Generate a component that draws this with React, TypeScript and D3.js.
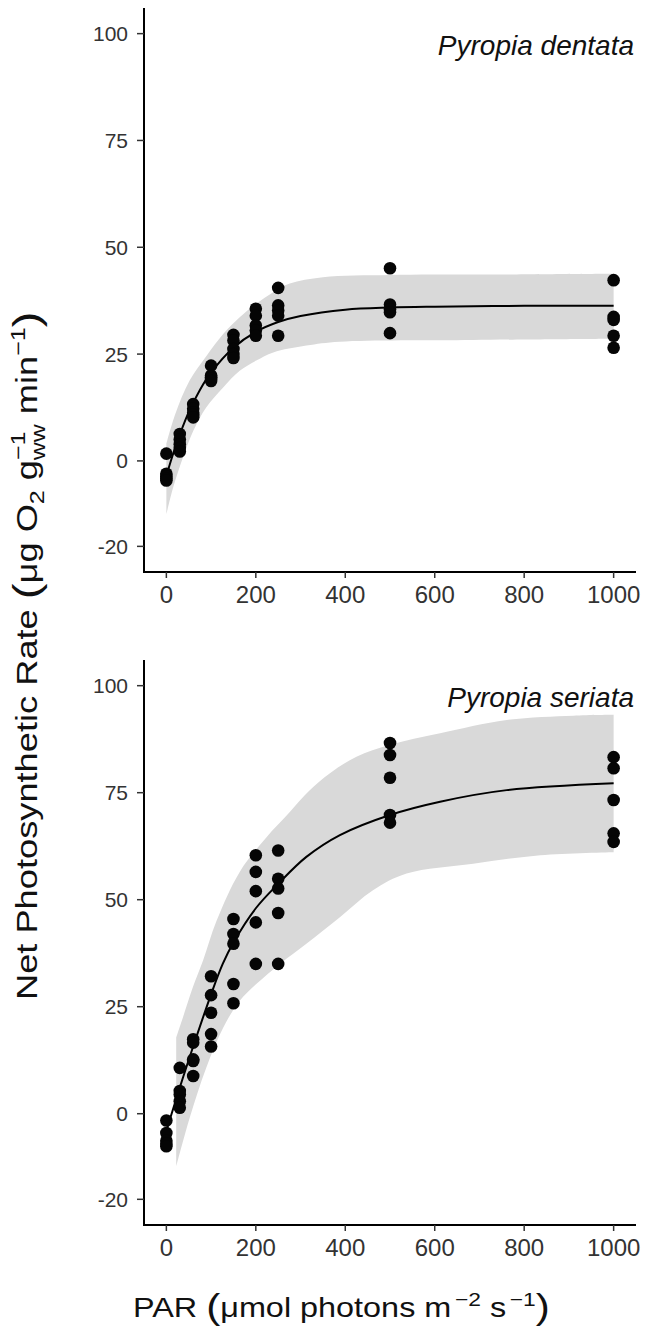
import React from "react";
import * as d3 from "d3";

// ---------- data ----------
const PAR_LEVELS = [0, 30, 60, 100, 150, 200, 250, 500, 1000];

const dentataRates = [
  [1.7, -3.0, -3.6, -4.2, -4.6],
  [6.3, 5.0, 3.9, 3.0, 2.2],
  [13.3, 12.2, 11.3, 10.8, 10.2],
  [22.3, 20.0, 19.6, 19.2, 18.7],
  [29.5, 28.2, 26.2, 25.0, 24.1],
  [35.6, 34.0, 31.7, 30.5, 29.3],
  [40.5, 36.4, 35.2, 34.0, 29.3],
  [45.1, 36.6, 35.5, 34.8, 29.9],
  [42.3, 33.7, 33.0, 29.3, 26.5],
];

const seriataRates = [
  [-1.6, -4.5, -6.3, -7.0, -7.6],
  [10.7, 5.3, 4.5, 2.9, 1.4],
  [17.4, 16.6, 12.7, 12.3, 8.8],
  [32.1, 27.7, 23.6, 18.6, 15.7],
  [45.5, 42.0, 39.7, 30.3, 25.8],
  [60.4, 56.5, 52.0, 44.7, 35.0],
  [61.5, 54.9, 52.6, 46.9, 35.0],
  [86.6, 83.8, 78.5, 69.8, 68.0],
  [83.3, 80.7, 73.3, 65.5, 63.5],
];

// fitted curves
const dentataFitX = [0, 20, 50, 75, 100, 150, 200, 250, 300, 400, 500, 600, 800, 1000];
const dentataFitY = [-3.5, 3.2, 11.4, 16.6, 20.7, 26.5, 30.2, 32.5, 33.9, 35.4, 35.9, 36.1, 36.3, 36.3];

const seriataFitX = [0, 10, 37, 59, 100, 126, 150, 200, 250, 313, 388, 500, 612, 761, 1000];
const seriataFitY = [-4.0, -0.6, 8.4, 15.4, 27.9, 35.0, 40.0, 48.0, 53.7, 60.0, 65.1, 69.8, 72.9, 75.6, 77.2];

// confidence bands
const dentataUpperX = [0, 20, 52, 90, 127, 164, 201, 239, 276, 350, 500, 700, 1000];
const dentataUpperY = [4.0, 11.0, 18.8, 24.6, 29.7, 33.6, 36.8, 39.5, 41.5, 43.0, 43.5, 43.6, 43.8];
const dentataLowerX = [0, 15, 37, 60, 89, 127, 164, 201, 239, 313, 388, 686, 1000];
const dentataLowerY = [-12.5, -6.3, 0.8, 7.0, 12.5, 17.2, 21.1, 23.5, 25.4, 27.0, 27.9, 28.3, 28.6];

const seriataUpperX = [22, 37, 59, 82, 112, 164, 223, 276, 320, 365, 425, 500, 612, 761, 910, 1000];
const seriataUpperY = [17.8, 22.5, 29.5, 35.8, 45.0, 56.5, 64.5, 70.5, 75.5, 79.5, 83.4, 86.2, 88.9, 92.0, 93.0, 93.2];
const seriataLowerX = [22, 52, 89, 127, 164, 201, 254, 313, 388, 462, 537, 686, 836, 1000];
const seriataLowerY = [-12.3, -1.0, 10.7, 20.1, 26.4, 30.3, 35.0, 39.7, 45.9, 52.2, 56.1, 58.4, 60.4, 61.1];

const X_TICKS = [0, 200, 400, 600, 800, 1000];
const Y_TICKS = [-20, 0, 25, 50, 75, 100];
const SPECIES = ["Pyropia dentata", "Pyropia seriata"];

// ---------- layout ----------
const W = 654;
const H = 1328;
const PANEL_LEFT = 144;
const PANEL_RIGHT = 636;
const PANELS_Y = [
  [8, 572],
  [660, 1225],
];
const FONT = "'Liberation Sans', Arial, Helvetica, sans-serif";

const zip = (xs: number[], ys: number[]) => xs.map((x, i) => [x, ys[i]] as [number, number]);

const panelData = [
  {
    name: SPECIES[0],
    rates: dentataRates,
    fit: zip(dentataFitX, dentataFitY),
    upper: zip(dentataUpperX, dentataUpperY),
    lower: zip(dentataLowerX, dentataLowerY),
  },
  {
    name: SPECIES[1],
    rates: seriataRates,
    fit: zip(seriataFitX, seriataFitY),
    upper: zip(seriataUpperX, seriataUpperY),
    lower: zip(seriataLowerX, seriataLowerY),
  },
];

function Panel({ idx }: { idx: number }) {
  const p = panelData[idx];
  const [top, bottom] = PANELS_Y[idx];
  const x = d3.scaleLinear().domain([-50, 1050]).range([PANEL_LEFT, PANEL_RIGHT]);
  const y = d3.scaleLinear().domain([-26, 106]).range([bottom, top]);

  const lineGen = d3
    .line<[number, number]>()
    .x((d) => x(d[0]))
    .y((d) => y(d[1]))
    .curve(d3.curveCatmullRom.alpha(0.5));

  const upPath = lineGen(p.upper) || "";
  const loPath = (lineGen([...p.lower].reverse()) || "").replace(/^M/, "L");
  const bandPath = upPath + loPath + "Z";
  const fitPath = lineGen(p.fit) || "";

  const points: { px: number; v: number }[] = [];
  PAR_LEVELS.forEach((par, i) => p.rates[i].forEach((v) => points.push({ px: par, v })));

  return (
    <g>
      <path d={bandPath} fill="#d9d9d9" stroke="none" />
      <path d={fitPath} fill="none" stroke="#000" strokeWidth={2} />
      {points.map((d, i) => (
        <circle key={i} cx={x(d.px)} cy={y(d.v)} r={6.3} fill="#050505" />
      ))}
      {/* axes */}
      <line x1={PANEL_LEFT} x2={PANEL_LEFT} y1={top} y2={bottom + 1} stroke="#000" strokeWidth={2} />
      <line x1={PANEL_LEFT - 1} x2={PANEL_RIGHT} y1={bottom} y2={bottom} stroke="#000" strokeWidth={2} />
      {Y_TICKS.map((t) => (
        <g key={"y" + t}>
          <line x1={PANEL_LEFT - 7} x2={PANEL_LEFT} y1={y(t)} y2={y(t)} stroke="#333" strokeWidth={1.5} />
          <text
            x={PANEL_LEFT - 16}
            y={y(t)}
            dy="0.36em"
            textAnchor="end"
            fontSize={21}
            fontFamily={FONT}
            fill="#333"
          >
            {t}
          </text>
        </g>
      ))}
      {X_TICKS.map((t) => (
        <g key={"x" + t}>
          <line x1={x(t)} x2={x(t)} y1={bottom} y2={bottom + 6} stroke="#333" strokeWidth={1.5} />
          <text x={x(t)} y={bottom + 31} textAnchor="middle" fontSize={24} fontFamily={FONT} fill="#333">
            {t}
          </text>
        </g>
      ))}
      <text
        x={PANEL_RIGHT - 2}
        y={top + 47}
        textAnchor="end"
        fontSize={28}
        fontStyle="italic"
        fontFamily={FONT}
        fill="#111"
      >
        {p.name}
      </text>
    </g>
  );
}

export default function App() {
  const fs = 29;
  const small = Math.round(fs * 0.7);
  const xfs = 27;
  const xsmall = Math.round(xfs * 0.7);
  return (
    <svg
      width={W}
      height={H}
      style={{ display: "block", background: "#fff", position: "absolute", left: 0, top: 0 }}
    >
      <Panel idx={0} />
      <Panel idx={1} />
      {/* y-axis title */}
      <text transform="translate(37,1000) rotate(-90) scale(1.25,1)" fontSize={fs} fontFamily={FONT} fill="#111">
        <tspan>Net Photosynthetic Rate </tspan>
        <tspan fontSize={fs * 1.3} dy={2}>(</tspan>
        <tspan dy={-2}>μg O</tspan>
        <tspan fontSize={small} dy={7}>2</tspan>
        <tspan dy={-7}> g</tspan>
        <tspan fontSize={small} dy={-12}>−1</tspan>
        <tspan fontSize={small} dx={-23} dy={20}>ww</tspan>
        <tspan dy={-8}> min</tspan>
        <tspan fontSize={small} dy={-12}>−1</tspan>
        <tspan fontSize={fs * 1.3} dy={14}>)</tspan>
      </text>
      {/* x-axis title */}
      <text transform="translate(133,1317) scale(1.2,1)" fontSize={xfs} fontFamily={FONT} fill="#111">
        <tspan>PAR </tspan>
        <tspan fontSize={xfs * 1.3} dy={2}>(</tspan>
        <tspan dy={-2}>μmol photons m</tspan>
        <tspan fontSize={xsmall} dx={3} dy={-11}>−2</tspan>
        <tspan dy={11}> s</tspan>
        <tspan fontSize={xsmall} dx={3} dy={-11}>−1</tspan>
        <tspan fontSize={xfs * 1.3} dy={13}>)</tspan>
      </text>
    </svg>
  );
}
